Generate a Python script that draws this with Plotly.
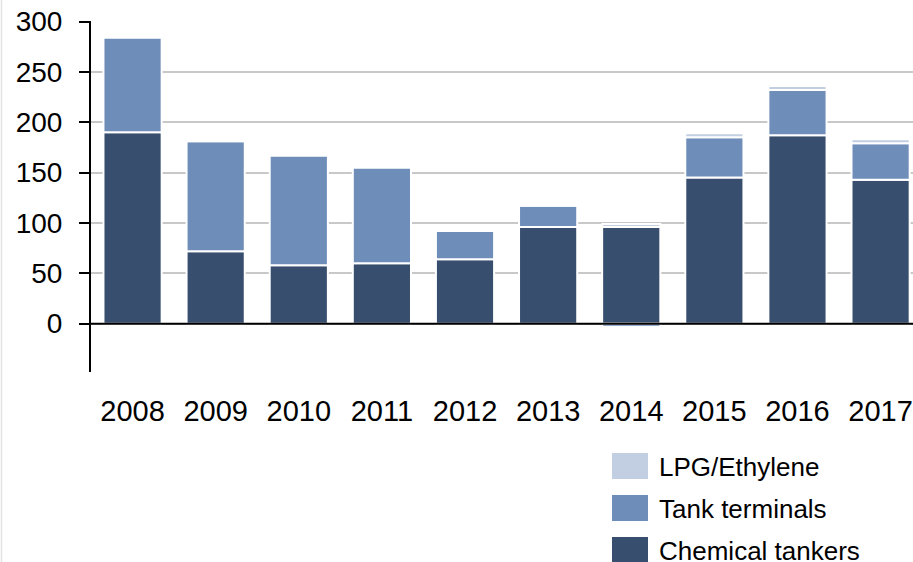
import plotly.graph_objects as go

years = ["2008", "2009", "2010", "2011", "2012", "2013", "2014", "2015", "2016", "2017"]
chemical_tankers = [190, 72, 58, 60, 64, 96, 96, 145, 187, 143]
tank_terminals = [94, 109, 109, 95, 28, 21, -3, 40, 45, 36]
lpg_ethylene = [0, 0, 0, 0, 0, 0, 3, 4, 4, 4]
y_ticks = [0, 50, 100, 150, 200, 250, 300]

c_dark = "#384e6e"
c_mid = "#6e8db8"
c_light = "#c2cee1"

W, H = 913, 562
ML, MR, MT = 91, 0, 21
PH = 372 - 21
MB = H - MT - PH
PW = W - ML - MR

def px(x):
    return (x - ML) / PW

def py(y):
    return (MT + PH - y) / PH

fig = go.Figure()
fig.add_bar(x=years, y=chemical_tankers, name="Chemical tankers", marker_color=c_dark,
            marker_line=dict(color="white", width=2))
fig.add_bar(x=years, y=tank_terminals, name="Tank terminals", marker_color=c_mid,
            marker_line=dict(color="white", width=2))
fig.add_bar(x=years, y=lpg_ethylene, name="LPG/Ethylene", marker_color=c_light,
            marker_line=dict(color="white", width=2))

font = "Liberation Sans, Arial, sans-serif"

fig.update_layout(
    width=W, height=H,
    margin=dict(l=ML, r=MR, t=MT, b=MB, pad=0),
    barmode="relative",
    bargap=0.3,
    showlegend=False,
    plot_bgcolor="white", paper_bgcolor="white",
    font=dict(family=font, color="black", size=28),
)
fig.update_xaxes(
    type="category", range=[-0.5, 9.39],
    showline=False, showgrid=False, ticks="",
    tickfont=dict(size=29, family=font, color="black"),
    ticklabelstandoff=19,
    ticklabeloverflow="allow",
)
fig.update_yaxes(
    range=[-48, 300.5], tickvals=y_ticks,
    showline=True, linecolor="black", linewidth=2,
    ticks="outside", ticklen=10, tickwidth=2, tickcolor="black",
    showgrid=True, gridcolor="#c8c8c8", gridwidth=1.5,
    zeroline=False,
    tickfont=dict(size=28, family=font, color="black"),
    ticklabelstandoff=11,
    ticklabeloverflow="allow",
)

# zero line above bars
fig.add_shape(type="line", xref="paper", yref="y", x0=0, x1=1, y0=0, y1=0,
              line=dict(color="black", width=2), layer="above")

# faint frame line at the left edge
fig.add_shape(type="line", xref="paper", yref="paper", x0=px(1.5), x1=px(1.5),
              y0=py(562), y1=py(0), line=dict(color="#e4e4e4", width=1.5))

# legend
legend_items = [("LPG/Ethylene", c_light, 453), ("Tank terminals", c_mid, 495), ("Chemical tankers", c_dark, 537)]
for label, col, top in legend_items:
    fig.add_shape(type="rect", xref="paper", yref="paper",
                  x0=px(612), x1=px(648), y0=py(top + 26), y1=py(top),
                  fillcolor=col, line=dict(width=0))
    fig.add_annotation(xref="paper", yref="paper", x=px(657), y=py(top + 14),
                       text=label, showarrow=False, xanchor="left", yanchor="middle",
                       font=dict(size=26, family=font, color="black"))

fig.write_html(
    "out.html",
    config={"displayModeBar": False},
    post_script="document.body.style.margin='0';document.body.style.overflow='hidden';"
                "document.documentElement.style.overflow='hidden';",
)
